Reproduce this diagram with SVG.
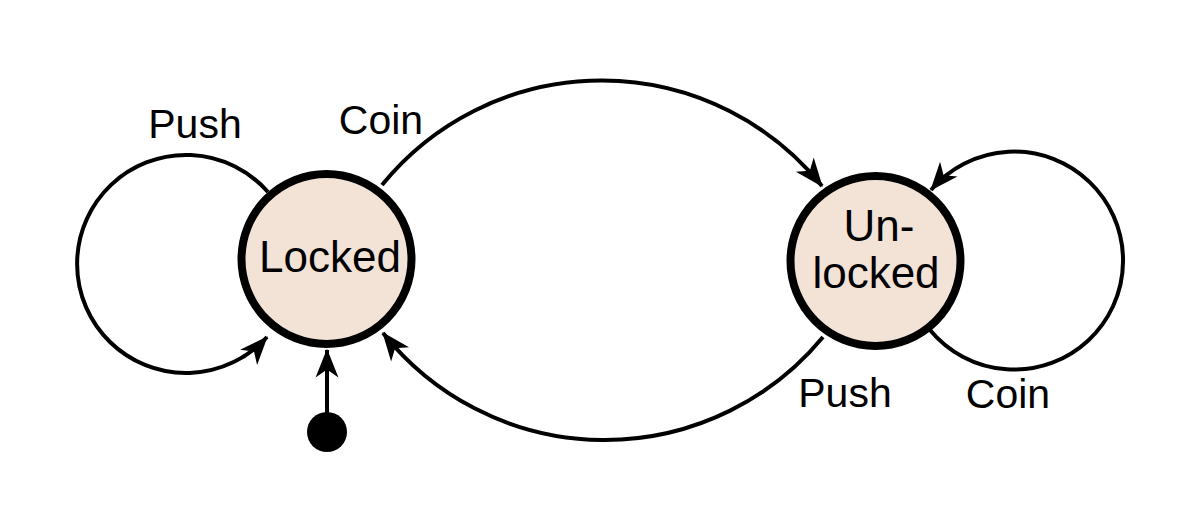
<svg xmlns="http://www.w3.org/2000/svg" width="1200" height="521" viewBox="0 0 1200 521">
<style>
.node{fill:#f3e3d7;stroke:#000;stroke-width:8}
.edge{fill:none;stroke:#000;stroke-width:4}
text{font-family:"Liberation Sans",Arial,sans-serif;fill:#000;text-anchor:middle}
.nl{font-size:44px}
.el{font-size:41px}
</style>
<defs>
<marker id="arr" markerUnits="userSpaceOnUse" markerWidth="40" markerHeight="40" viewBox="-30 -15 35 30" refX="0" refY="0" orient="auto">
<path d="M1,0 L-24,-10 L-17,0 L-24,10 Z" fill="#000"/>
</marker>
</defs>
<rect width="1200" height="521" fill="#fff"/>
<g id="connectors">
<path class="edge" d="M268,192 A109,109 0 1 0 267,337" marker-end="url(#arr)"/>
<path class="edge" d="M382,185 A283,283 0 0 1 822,186" marker-end="url(#arr)"/>
<path class="edge" d="M823,337 A283,283 0 0 1 383,333" marker-end="url(#arr)"/>
<path class="edge" d="M930,330 A109,109 0 1 0 931,190" marker-end="url(#arr)"/>
<path class="edge" d="M327,432 L327,350" marker-end="url(#arr)"/>
<text class="el" x="195" y="138">Push</text>
<text class="el" x="381" y="134">Coin</text>
<text class="el" x="845" y="407">Push</text>
<text class="el" x="1008" y="408">Coin</text>
</g>
<g id="start"><circle cx="327" cy="432" r="20" fill="#000"/></g>
<g id="locked">
<circle class="node" cx="326.5" cy="259" r="85"/>
<text class="nl" x="330" y="272" font-size="45">Locked</text>
</g>
<g id="unlocked">
<circle class="node" cx="875.5" cy="261" r="85"/>
<text class="nl" x="879" y="241">Un-</text>
<text class="nl" x="876" y="288">locked</text>
</g>
</svg>
